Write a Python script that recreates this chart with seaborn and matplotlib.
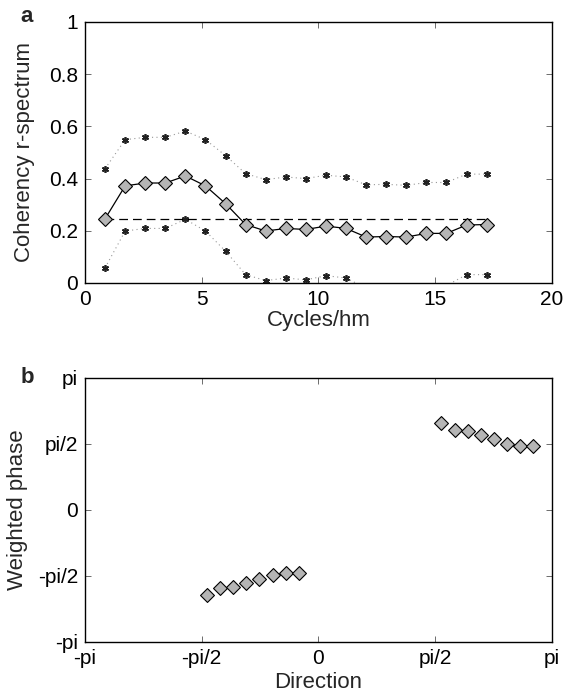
import numpy as np
import pandas as pd
import seaborn as sns
import matplotlib
matplotlib.use("Agg")
import matplotlib.pyplot as plt

# panel a data
cycles = [0.86 * k for k in range(1, 21)]
coherency = [0.246, 0.372, 0.383, 0.383, 0.410, 0.372, 0.304, 0.224, 0.199, 0.209,
             0.205, 0.218, 0.209, 0.176, 0.178, 0.176, 0.190, 0.190, 0.222, 0.224]
upper = [0.438, 0.549, 0.558, 0.558, 0.582, 0.549, 0.488, 0.419, 0.396, 0.406,
         0.400, 0.413, 0.406, 0.376, 0.378, 0.374, 0.385, 0.385, 0.417, 0.417]
lower = [0.058, 0.199, 0.209, 0.209, 0.244, 0.199, 0.122, 0.032, 0.009, 0.019,
         0.012, 0.028, 0.019, -0.02, -0.03, -0.03, -0.02, -0.01, 0.032, 0.032]
threshold = 0.246

# panel b data (radians)
direction = [-1.498, -1.323, -1.148, -0.969, -0.794, -0.615, -0.440, -0.265,
             1.651, 1.830, 2.005, 2.184, 2.359, 2.540, 2.715, 2.890]
phase = [-2.022, -1.863, -1.839, -1.743, -1.655, -1.542, -1.494, -1.494,
         2.062, 1.894, 1.871, 1.782, 1.679, 1.576, 1.518, 1.518]
pi_ticks = [-np.pi, -np.pi / 2, 0, np.pi / 2, np.pi]
pi_labels = ['-pi', '-pi/2', '0', 'pi/2', 'pi']

sns.set_theme(style='ticks')
plt.rcParams['font.family'] = ['Liberation Sans', 'DejaVu Sans']

df_a = pd.DataFrame({'x': cycles, 'coh': coherency, 'up': upper, 'lo': lower})
df_b = pd.DataFrame({'dir': direction, 'phase': phase})

fig = plt.figure(figsize=(5.64, 6.97), dpi=100)
ax1 = fig.add_axes([0.1507, 0.594, 0.828, 0.3745])
ax2 = fig.add_axes([0.1507, 0.079, 0.828, 0.3788])

# panel a
for col in ['up', 'lo']:
    sns.lineplot(data=df_a, x='x', y=col, ax=ax1, color='#999999', linestyle=(0, (1, 3)),
                 linewidth=0.8, marker=(6, 2, 0), markersize=5, markeredgewidth=1.2,
                 markerfacecolor='#222222', markeredgecolor='#222222')
ax1.plot([cycles[0], cycles[-1]], [threshold, threshold], color='black',
         linestyle=(0, (7, 4)), linewidth=0.9)
sns.lineplot(data=df_a, x='x', y='coh', ax=ax1, color='black', linewidth=0.9,
             marker='D', markersize=7, markerfacecolor='#b5b5b5',
             markeredgecolor='black', markeredgewidth=0.8)
ax1.set_xlim(0, 20)
ax1.set_ylim(0, 1)
ax1.set_xticks([0, 5, 10, 15, 20])
ax1.set_yticks([0, 0.2, 0.4, 0.6, 0.8, 1])
ax1.set_yticklabels(['0', '0.2', '0.4', '0.6', '0.8', '1'])
ax1.set_xlabel('Cycles/hm', fontsize=16, labelpad=1)
ax1.set_ylabel('Coherency r-spectrum', fontsize=16, labelpad=10)

# panel b
sns.scatterplot(data=df_b, x='dir', y='phase', ax=ax2, marker='D', s=50,
                color='#b5b5b5', edgecolor='black', linewidth=0.8)
ax2.set_xlim(-np.pi, np.pi)
ax2.set_ylim(-np.pi, np.pi)
ax2.set_xticks(pi_ticks)
ax2.set_xticklabels(pi_labels)
ax2.set_yticks(pi_ticks)
ax2.set_yticklabels(pi_labels)
ax2.set_xlabel('Direction', fontsize=16, labelpad=3)
ax2.set_ylabel('Weighted phase', fontsize=16, labelpad=7)

for ax in [ax1, ax2]:
    ax.tick_params(direction='in', top=True, right=True, length=4, width=0.6,
                   labelsize=15, color='#555555', labelcolor='black', pad=5)
    for s in ax.spines.values():
        s.set_color('black')
        s.set_linewidth(1.0)

fig.text(0.036, 0.976, 'a', fontsize=16, fontweight='bold', va='center')
fig.text(0.036, 0.458, 'b', fontsize=16, fontweight='bold', va='center')

fig.savefig('out.png', dpi=100)
